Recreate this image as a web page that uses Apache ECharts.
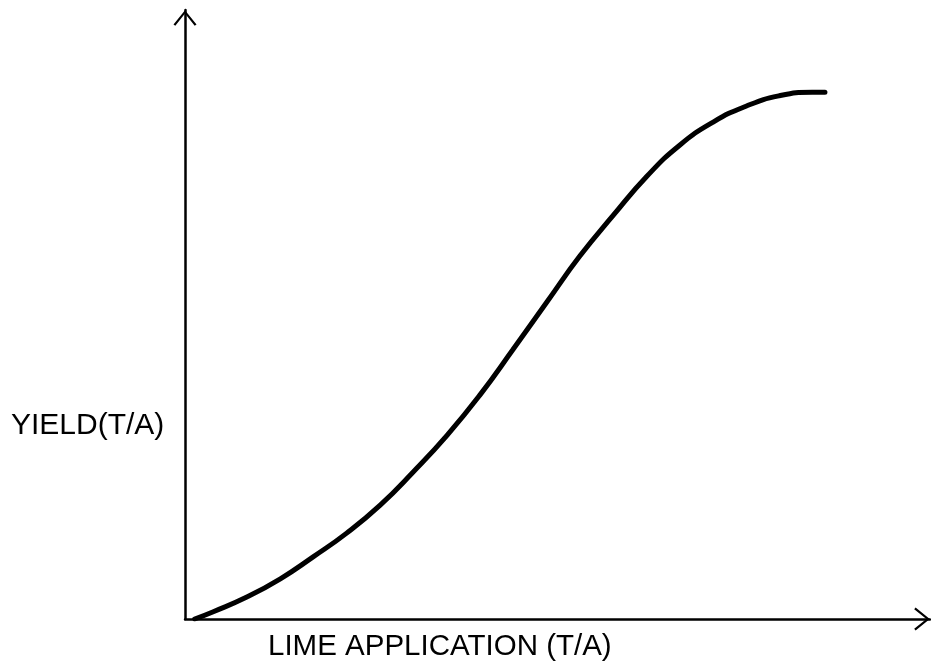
<!DOCTYPE html>
<html>
<head>
<meta charset="utf-8">
<script src="https://cdn.jsdelivr.net/npm/echarts@6/dist/echarts.min.js"></script>
<style>html,body{margin:0;padding:0;background:#fff;}#c{width:931px;height:664px;}</style>
</head>
<body>
<div id="c"></div>
<script>
// Lime application (relative units) vs yield (relative units)
const limeApplication = [1.3, 3.8, 8.3, 12.8, 17.2, 21.7, 26.2, 30.6, 35.2, 39.6, 44.0, 48.6, 53.0, 57.5, 62.0, 66.4, 70.9, 75.3, 79.7, 84.2, 85.9];
const yieldValues     = [0.0, 1.2, 3.6, 6.6, 10.2, 14.1, 18.7, 24.1, 30.2, 36.8, 44.2, 52.1, 59.6, 66.3, 72.7, 77.8, 81.6, 84.2, 85.9, 86.5, 86.5];
const xAxisName = 'LIME APPLICATION (T/A)';
const yAxisName = 'YIELD(T/A)';

const chevron = 'path://M11.5 0 L23 14.2 L21.2 15.6 L11.5 3.4 L1.8 15.6 L0 14.2 Z';
const chart = echarts.init(document.getElementById('c'), null, {renderer: 'canvas'});
const axisCommon = {
  type: 'value', min: 0, max: 100,
  axisLabel: {show: false}, axisTick: {show: false}, splitLine: {show: false},
  axisLine: {
    show: true, onZero: false,
    lineStyle: {color: '#000', width: 2.5},
    symbol: ['none', chevron], symbolSize: [23, 16], symbolOffset: [0, -8]
  }
};
chart.setOption({
  animation: false,
  backgroundColor: '#fff',
  grid: {left: 185, right: 1, top: 10, bottom: 45},
  xAxis: axisCommon,
  yAxis: axisCommon,
  graphic: [
    {type: 'text', left: 268, top: 632, style: {text: xAxisName, font: '29.5px "Liberation Sans", Arial, sans-serif', fill: '#000'}},
    {type: 'text', left: 11, top: 411, style: {text: yAxisName, font: '30px "Liberation Sans", Arial, sans-serif', fill: '#000'}}
  ],
  series: [{
    type: 'line',
    data: limeApplication.map((x, i) => [x, yieldValues[i]]),
    smooth: 0.5,
    showSymbol: false,
    lineStyle: {color: '#000', width: 5, cap: 'round'}
  }]
});
</script>
</body>
</html>
